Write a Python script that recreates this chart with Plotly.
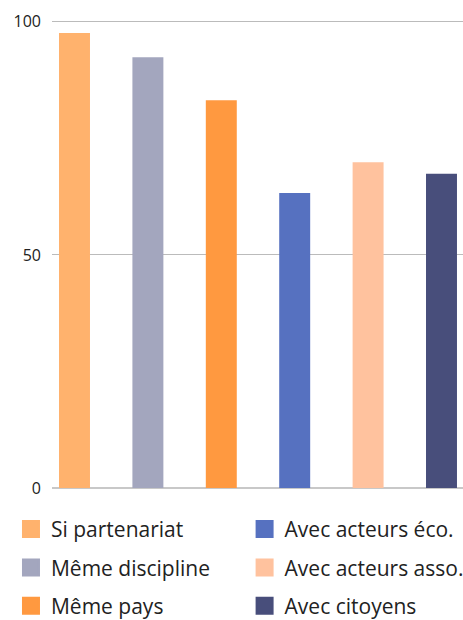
import plotly.graph_objects as go

categories = ["Si partenariat", "Même discipline", "Même pays",
              "Avec acteurs éco.", "Avec acteurs asso.", "Avec citoyens"]
values = [97.6, 92.4, 83.2, 63.3, 69.9, 67.4]
colors = ["#FFB26D", "#A3A6BE", "#FF9940", "#5671C0", "#FFC29E", "#484E7B"]
y_ticks = [0, 50, 100]

FONT = "Open Sans"
TXT = "#222222"

fig = go.Figure()
fig.add_trace(go.Bar(
    x=categories, y=values, marker=dict(color=colors, line=dict(width=0)),
    width=0.422, showlegend=False, hoverinfo="x+y",
))

for i, (name, col) in enumerate(zip(categories, colors)):
    fig.add_trace(go.Scatter(
        x=[None], y=[None], mode="markers", name=name,
        marker=dict(symbol="square", size=16, color=col, line=dict(color=col, width=2)),
        legend="legend" if i < 3 else "legend2",
        legendgroup=f"g{i}",
    ))

leg_common = dict(
    orientation="v", xanchor="left", yanchor="top",
    font=dict(family=FONT, size=21, color=TXT),
    bgcolor="rgba(0,0,0,0)", tracegroupgap=8, itemclick=False,
)

fig.update_layout(
    width=463, height=620,
    margin=dict(l=52, r=0, t=20, b=131.5, autoexpand=False),
    plot_bgcolor="white", paper_bgcolor="white",
    barmode="overlay",
    font=dict(family=FONT, color=TXT),
    xaxis=dict(type="category", range=[-0.3065, 5.293], showticklabels=False,
               showgrid=False, zeroline=False, showline=False, ticks=""),
    yaxis=dict(range=[0, 100.4], tickvals=y_ticks, ticktext=[str(v) for v in y_ticks],
               showgrid=True, gridcolor="#BBBBBB", gridwidth=1,
               zeroline=True, zerolinecolor="#C8C8C8", zerolinewidth=2,
               showline=False, ticks="", ticklabelstandoff=10,
               tickfont=dict(family=FONT, size=16, color=TXT)),
    legend=dict(x=-0.0998, y=-0.0448, **leg_common),
    legend2=dict(x=0.4686, y=-0.0448, **leg_common),
)

fig.write_html("out.html", config={"displayModeBar": False},
               post_script="document.body.style.margin='0';document.body.style.overflow='hidden';")
